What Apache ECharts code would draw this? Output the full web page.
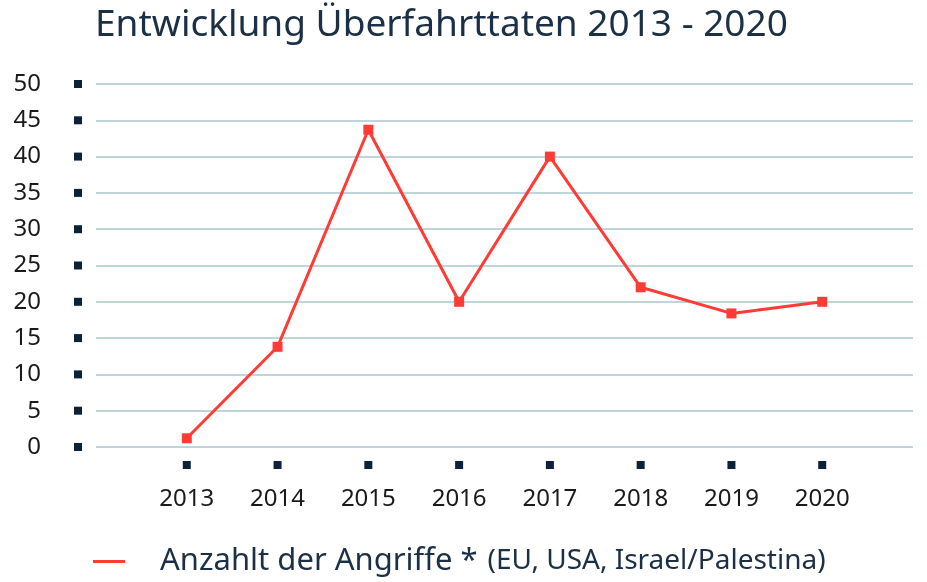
<!DOCTYPE html>
<html>
<head>
<meta charset="utf-8">
<script src="https://cdn.jsdelivr.net/npm/echarts@6/dist/echarts.min.js"></script>
<style>
  html, body { margin: 0; padding: 0; background: #fff; }
  #chart { width: 927px; height: 582px; }
</style>
</head>
<body>
<div id="chart"></div>
<script>
// Daten
var years = [2013, 2014, 2015, 2016, 2017, 2018, 2019, 2020];
var angriffe = [1.2, 13.8, 43.7, 20, 40, 22, 18.4, 20];
var yTicks = [0, 5, 10, 15, 20, 25, 30, 35, 40, 45, 50];

var seriesName = 'Anzahlt der Angriffe * (EU, USA, Israel/Palestina)';
var navy = '#0c2238';
var fontFam = '"Noto Sans", sans-serif';

var chart = echarts.init(document.getElementById('chart'));

chart.setOption({
  backgroundColor: '#fff',
  animation: false,
  title: {
    text: 'Entwicklung Überfahrttaten 2013 - 2020',
    left: 90,
    top: 2,
    textStyle: { fontFamily: fontFam, fontSize: 37, fontWeight: 'normal', color: '#1b2f46' }
  },
  legend: {
    data: [seriesName],
    left: 88,
    bottom: 0,
    icon: 'rect',
    itemWidth: 32,
    itemHeight: 3,
    formatter: function () {
      return '{a|Anzahlt der Angriffe *}{b|(EU, USA, Israel/Palestina)}';
    },
    textStyle: {
      rich: {
        a: { fontFamily: fontFam, fontSize: 31, color: '#1b2f46', padding: [0, 0, 0, 30] },
        b: { fontFamily: fontFam, fontSize: 28, color: '#1b2f46', padding: [0, 0, 0, 10] }
      }
    }
  },
  grid: { left: 96, right: 14, top: 84, bottom: 135 },
  xAxis: {
    type: 'value',
    min: 2012,
    max: 2021,
    interval: 1,
    axisLine: { show: false },
    axisTick: { show: false },
    splitLine: { show: false },
    axisLabel: {
      margin: 14,
      formatter: function (v) {
        if (years.indexOf(v) < 0) return '';
        return '{s|}\n{v|' + v + '}';
      },
      rich: {
        s: { width: 8, height: 8, lineHeight: 8, backgroundColor: navy },
        v: { fontFamily: fontFam, fontSize: 24, color: '#1a1a1a', lineHeight: 60 }
      }
    }
  },
  yAxis: {
    type: 'value',
    min: yTicks[0],
    max: yTicks[yTicks.length - 1],
    interval: 5,
    axisLine: { show: false },
    axisTick: { show: false },
    splitLine: { lineStyle: { color: '#a9c8cf', width: 1.5 } },
    axisLabel: {
      margin: 14,
      formatter: function (v) {
        return '{v|' + v + '}{s|}';
      },
      rich: {
        v: { fontFamily: fontFam, fontSize: 24, color: '#1a1a1a', padding: [0, 33, 0, 0] },
        s: { width: 8, height: 8, backgroundColor: navy }
      }
    }
  },
  series: [{
    name: seriesName,
    type: 'line',
    data: years.map(function (y, i) { return [y, angriffe[i]]; }),
    symbol: 'rect',
    symbolSize: 10,
    lineStyle: { color: '#ff3b36', width: 3 },
    itemStyle: { color: '#ff3b36' }
  }]
});
</script>
</body>
</html>
